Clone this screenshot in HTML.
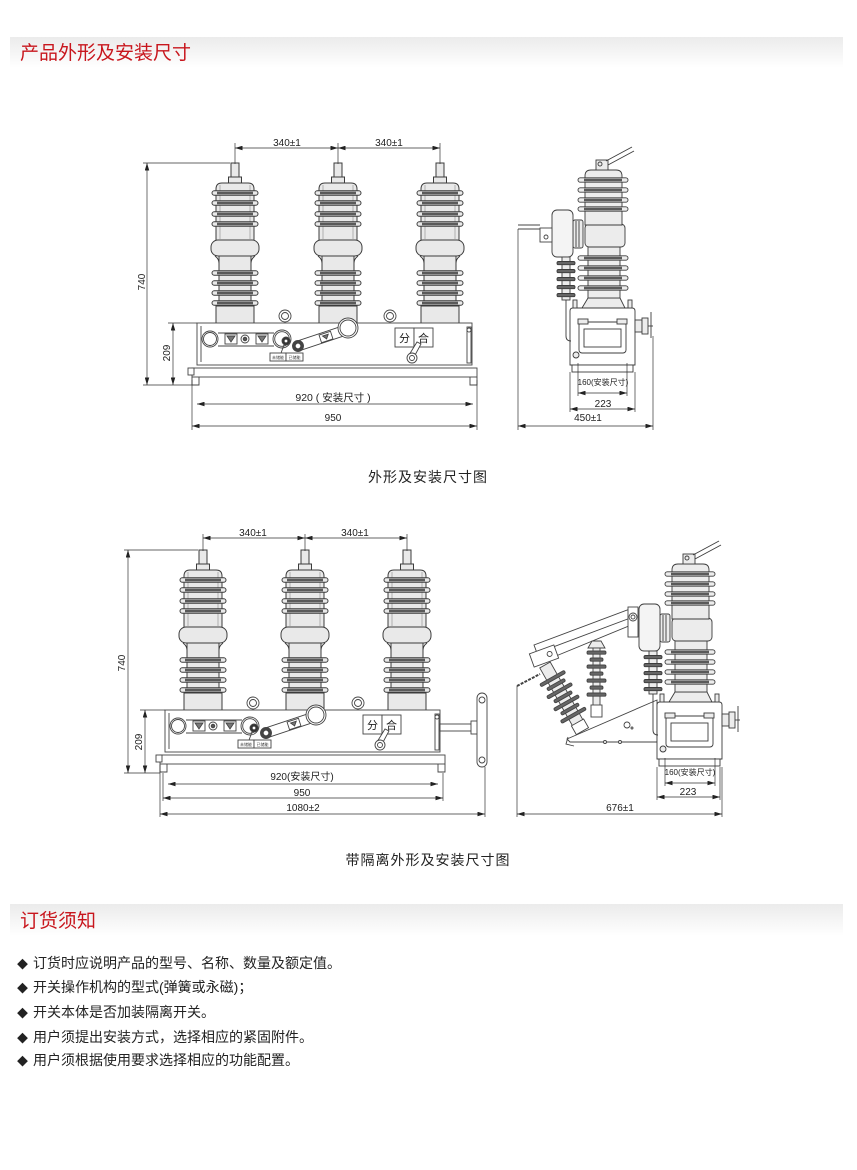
<!DOCTYPE html>
<html><head><meta charset="utf-8"><style>
html,body{margin:0;padding:0;background:#fff;}
svg{display:block;}
text{font-family:"Liberation Sans","Noto Sans CJK SC",sans-serif;}
</style></head><body>
<svg width="857" height="1170" viewBox="0 0 857 1170" xmlns="http://www.w3.org/2000/svg">
<defs>
 <linearGradient id="hg" x1="0" y1="0" x2="0" y2="1"><stop offset="0" stop-color="#ebebeb"/><stop offset="1" stop-color="#ffffff"/></linearGradient>
 <marker id="a" viewBox="0 0 10 6" refX="10" refY="3" markerWidth="8" markerHeight="4.5" orient="auto-start-reverse" markerUnits="userSpaceOnUse"><path d="M0,0 L10,3 L0,6 z" fill="#222"/></marker>
 <g id="shedU"><rect x="-23" y="-2.2" width="46" height="4.4" rx="2.2"/><rect x="-18" y="-1.3" width="36" height="2.6" fill="#5a5a5a" stroke="none"/></g>
 <g id="pole" stroke="#3c3c3c" stroke-width="1" fill="#e9e9e9">
  <rect x="-4" y="0" width="8" height="14"/>
  <rect x="-6.5" y="14" width="13" height="6"/>
  <path d="M-19,78 V26 Q-19,20 -13,20 H13 Q19,20 19,26 V78 Z"/>
  <rect x="-16" y="92" width="32" height="52"/>
  <path d="M-19,160 V143 H19 V160"/>
  <rect x="-24" y="77" width="48" height="16" rx="7"/>
  <path d="M-20,93 Q-16,96 -16,100 M20,93 Q16,96 16,100" fill="none"/>
  <line x1="-15" y1="22" x2="-15" y2="76" stroke="#888" stroke-width="0.6"/>
  <line x1="15" y1="22" x2="15" y2="76" stroke="#888" stroke-width="0.6"/>
  <use href="#shedU" y="30"/><use href="#shedU" y="40"/><use href="#shedU" y="51"/><use href="#shedU" y="61"/>
  <use href="#shedU" y="110"/><use href="#shedU" y="120"/><use href="#shedU" y="130"/><use href="#shedU" y="140"/>
 </g>
 <g id="shedS"><rect x="-25" y="-2.2" width="50" height="4.4" rx="2.2"/><rect x="-19" y="-1.3" width="38" height="2.6" fill="#5a5a5a" stroke="none"/></g>
 <g id="shedSm"><rect x="-9" y="-1.5" width="18" height="3.2" rx="1.5" fill="#666"/></g>
</defs>

<!-- header 1 -->
<rect x="10" y="37" width="833" height="31" fill="url(#hg)"/>
<text x="20" y="59" font-size="19" fill="#c8161d">产品外形及安装尺寸</text>

<!-- ============ TOP FRONT VIEW ============ -->
<use href="#pole" transform="translate(235,163)"/>
<use href="#pole" transform="translate(338,163)"/>
<use href="#pole" transform="translate(440,163)"/>

<g id="mech" stroke="#444" stroke-width="0.9" fill="#fff">
 <circle cx="285" cy="316" r="6"/><circle cx="285" cy="316" r="3.5"/>
 <circle cx="390" cy="316" r="6"/><circle cx="390" cy="316" r="3.5"/>
 <rect x="197" y="323" width="275" height="42"/>
 <line x1="201" y1="326" x2="201" y2="362"/>
 <rect x="192" y="368" width="285" height="9"/>
 <path d="M192,377 V385 H199 V377" fill="none"/>
 <path d="M477,377 V385 H470 V377" fill="none"/>
 <rect x="188" y="368" width="6" height="7"/>
 <circle cx="210" cy="339" r="8"/><circle cx="210" cy="339" r="6.5"/>
 <line x1="218" y1="333" x2="274" y2="333"/><line x1="218" y1="346" x2="274" y2="346"/>
 <rect x="225" y="334" width="12" height="10"/><path d="M227,336 H235 L231,342 Z" fill="#777"/>
 <circle cx="245" cy="339" r="4"/><circle cx="245" cy="339" r="1.8" fill="#555"/>
 <rect x="256" y="334" width="12" height="10"/><path d="M258,336 H266 L262,342 Z" fill="#777"/>
 <circle cx="282" cy="339" r="9"/><circle cx="282" cy="339" r="7.3"/>
 <line x1="285" y1="342" x2="280" y2="356"/>
 <circle cx="286" cy="341" r="4" fill="#333"/><circle cx="286" cy="341" r="1.8"/>
 <path d="M299.6,350.7 L347.6,334.7 M296.4,341.3 L344.4,325.3" fill="none"/>
 <g transform="translate(326,337) rotate(-18)"><rect x="-6" y="-4" width="12" height="8"/><path d="M-3,-2 H3 L0,2Z" fill="#777"/></g>
 <circle cx="298" cy="346" r="5.5" fill="#444"/><circle cx="298" cy="346" r="2.8"/>
 <circle cx="348" cy="328" r="10"/><circle cx="348" cy="328" r="8"/>
 <rect x="270" y="353" width="16" height="8"/><rect x="286" y="353" width="17" height="8"/>
 <text x="278" y="359" font-size="4" fill="#333" stroke="none" text-anchor="middle">未储能</text>
 <text x="294.5" y="359" font-size="4" fill="#333" stroke="none" text-anchor="middle">已储能</text>
 <rect x="395" y="328" width="19" height="19"/><rect x="414" y="328" width="19" height="19"/>
 <text x="404.5" y="342" font-size="11" fill="#222" stroke="none" text-anchor="middle">分</text>
 <text x="423.5" y="342" font-size="11" fill="#222" stroke="none" text-anchor="middle">合</text>
 <path d="M409,355 L417,342 L421,344 L414,357 Z"/>
 <circle cx="412" cy="358" r="5"/><circle cx="412" cy="358" r="2.5"/>
 <rect x="467" y="327" width="4" height="36"/><circle cx="469" cy="330" r="2"/>
</g>

<!-- top front dims -->
<g stroke="#333" stroke-width="0.7" fill="none">
 <line x1="235" y1="143" x2="235" y2="164"/><line x1="338" y1="143" x2="338" y2="164"/><line x1="440" y1="143" x2="440" y2="164"/>
 <line x1="235" y1="148" x2="338" y2="148" marker-start="url(#a)" marker-end="url(#a)"/>
 <line x1="338" y1="148" x2="440" y2="148" marker-start="url(#a)" marker-end="url(#a)"/>
 <line x1="143" y1="163" x2="230" y2="163"/><line x1="143" y1="385" x2="192" y2="385"/>
 <line x1="147" y1="163" x2="147" y2="385" marker-start="url(#a)" marker-end="url(#a)"/>
 <line x1="168" y1="323" x2="197" y2="323"/>
 <line x1="173" y1="323" x2="173" y2="385" marker-start="url(#a)" marker-end="url(#a)"/>
 <line x1="192" y1="380" x2="192" y2="430"/><line x1="477" y1="380" x2="477" y2="430"/>
 <line x1="197" y1="404" x2="473" y2="404" marker-start="url(#a)" marker-end="url(#a)"/>
 <line x1="192" y1="426" x2="477" y2="426" marker-start="url(#a)" marker-end="url(#a)"/>
</g>
<g fill="#222" font-size="10" text-anchor="middle">
 <text x="287" y="146">340±1</text><text x="389" y="146">340±1</text>
 <text transform="translate(145,282) rotate(-90)">740</text>
 <text transform="translate(170,353) rotate(-90)">209</text>
 <text x="333" y="401" font-size="10.5">920 ( 安装尺寸 )</text>
 <text x="333" y="421">950</text>
</g>

<!-- ============ TOP SIDE VIEW ============ -->
<g id="sidemain" stroke="#3c3c3c" stroke-width="0.9" fill="#ececec">
 <path d="M570,311 Q570,308 573,308 H632 Q635,308 635,311 V365 H570 Z" fill="#fff"/>
 <rect x="572" y="365" width="61" height="7" fill="#fff"/>
 <rect x="573" y="300" width="4" height="8"/>
 <rect x="628" y="300" width="4" height="8"/>
 <rect x="579" y="322" width="47" height="31" rx="3" fill="#fff"/>
 <rect x="584" y="329" width="37" height="18" fill="#fff"/>
 <rect x="578" y="319" width="10" height="5"/>
 <rect x="617" y="319" width="10" height="5"/>
 <circle cx="576" cy="355" r="3"/>
 <rect x="635" y="320" width="7" height="12"/>
 <rect x="642" y="318" width="6" height="16"/>
 <line x1="648" y1="326" x2="653" y2="326"/>
 <line x1="651" y1="312" x2="651" y2="338"/>
 <path d="M582,308 L588,298 H620 L625,308 Z"/>
 <rect x="588" y="245" width="32" height="53"/>
 <use href="#shedS" transform="translate(603,258)"/><use href="#shedS" transform="translate(603,268)"/>
 <use href="#shedS" transform="translate(603,278)"/><use href="#shedS" transform="translate(603,288)"/>
 <rect x="585" y="224" width="40" height="23" rx="4"/>
 <path d="M585,225 V176 Q585,170 591,170 H616 Q622,170 622,176 V225 Z"/>
 <use href="#shedS" transform="translate(603,180)"/><use href="#shedS" transform="translate(603,190)"/>
 <use href="#shedS" transform="translate(603,200)"/><use href="#shedS" transform="translate(603,209)"/>
 <rect x="596" y="160" width="12" height="10"/>
 <circle cx="600" cy="164" r="2"/>
 <line x1="606" y1="161" x2="632" y2="147"/>
 <line x1="608" y1="165" x2="634" y2="151"/>
 <rect x="573" y="220" width="10" height="28" rx="2"/>
 <line x1="576" y1="221" x2="576" y2="247"/><line x1="579" y1="221" x2="579" y2="247"/>
 <rect x="552" y="210" width="21" height="47" rx="5" fill="#f4f4f4"/>
 <rect x="562" y="257" width="8" height="43"/>
 <use href="#shedSm" transform="translate(566,263)"/><use href="#shedSm" transform="translate(566,271)"/>
 <use href="#shedSm" transform="translate(566,279)"/><use href="#shedSm" transform="translate(566,287)"/>
 <use href="#shedSm" transform="translate(566,295)"/>
 <path d="M566,300 V336 Q566,341 571,341" fill="none"/>
</g>
<g stroke="#444" stroke-width="0.9" fill="#fff">
 <rect x="540" y="228" width="12" height="14"/><circle cx="546" cy="237" r="2"/>
 <line x1="518" y1="225" x2="540" y2="225"/><line x1="518" y1="229" x2="540" y2="229"/>
</g>
<g stroke="#333" stroke-width="0.7" fill="none">
 <line x1="518" y1="229" x2="518" y2="430"/><line x1="653" y1="336" x2="653" y2="430"/>
 <line x1="518" y1="426" x2="653" y2="426" marker-start="url(#a)" marker-end="url(#a)"/>
 <line x1="570" y1="372" x2="570" y2="412"/><line x1="635" y1="372" x2="635" y2="412"/>
 <line x1="570" y1="409" x2="635" y2="409" marker-start="url(#a)" marker-end="url(#a)"/>
 <line x1="578" y1="363" x2="578" y2="396"/><line x1="627" y1="363" x2="627" y2="396"/>
 <line x1="578" y1="393" x2="627" y2="393" marker-start="url(#a)" marker-end="url(#a)"/>
</g>
<g fill="#222" font-size="10" text-anchor="middle">
 <text x="588" y="421">450±1</text>
 <text x="603" y="407">223</text>
 <text x="603" y="385" font-size="8">160(安装尺寸)</text>
</g>

<text x="428" y="482" font-size="14" fill="#222" text-anchor="middle" letter-spacing="1">外形及安装尺寸图</text>

<!-- ============ BOTTOM FRONT VIEW ============ -->
<use href="#pole" transform="translate(203,550)"/>
<use href="#pole" transform="translate(305,550)"/>
<use href="#pole" transform="translate(407,550)"/>
<use href="#mech" transform="translate(-32,387)"/>
<g stroke="#444" stroke-width="0.9" fill="#fff">
 <rect x="440" y="724" width="34" height="7"/>
 <rect x="471" y="721" width="8" height="13"/>
 <rect x="477" y="693" width="10" height="74" rx="5"/>
 <circle cx="482" cy="700" r="3"/><circle cx="482" cy="760" r="3"/>
</g>
<g stroke="#333" stroke-width="0.7" fill="none">
 <line x1="203" y1="534" x2="203" y2="551"/><line x1="305" y1="534" x2="305" y2="551"/><line x1="407" y1="534" x2="407" y2="551"/>
 <line x1="203" y1="538" x2="305" y2="538" marker-start="url(#a)" marker-end="url(#a)"/>
 <line x1="305" y1="538" x2="407" y2="538" marker-start="url(#a)" marker-end="url(#a)"/>
 <line x1="124" y1="550" x2="198" y2="550"/><line x1="124" y1="773" x2="160" y2="773"/>
 <line x1="128" y1="550" x2="128" y2="773" marker-start="url(#a)" marker-end="url(#a)"/>
 <line x1="140" y1="710" x2="165" y2="710"/>
 <line x1="145" y1="710" x2="145" y2="773" marker-start="url(#a)" marker-end="url(#a)"/>
 <line x1="160" y1="765" x2="160" y2="817"/><line x1="485" y1="767" x2="485" y2="817"/>
 <line x1="163" y1="773" x2="163" y2="801"/><line x1="443" y1="773" x2="443" y2="801"/>
 <line x1="168" y1="784" x2="438" y2="784" marker-start="url(#a)" marker-end="url(#a)"/>
 <line x1="163" y1="798" x2="443" y2="798" marker-start="url(#a)" marker-end="url(#a)"/>
 <line x1="160" y1="814" x2="485" y2="814" marker-start="url(#a)" marker-end="url(#a)"/>
</g>
<g fill="#222" font-size="10" text-anchor="middle">
 <text x="253" y="536">340±1</text><text x="355" y="536">340±1</text>
 <text transform="translate(125,663) rotate(-90)">740</text>
 <text transform="translate(142,742) rotate(-90)">209</text>
 <text x="302" y="780">920(安装尺寸)</text>
 <text x="302" y="796">950</text>
 <text x="303" y="811">1080±2</text>
</g>

<!-- ============ BOTTOM SIDE VIEW ============ -->
<g stroke="#444" stroke-width="0.9" fill="#fff">
 <polygon points="567,739 657,700 657,742 570,742"/>
 <circle cx="605" cy="742" r="1.5"/><circle cx="620" cy="742" r="1.5"/>
 <circle cx="627" cy="725" r="3"/><circle cx="632" cy="728" r="1"/>
 <!-- arrester -->
 <path d="M588,648 L592,641 H601 L605,648 Z" fill="#ececec"/>
 <rect x="593" y="648" width="7" height="60" fill="#ececec"/>
 <rect x="587" y="651" width="19" height="3.2" rx="1.5" fill="#666"/>
 <rect x="590" y="658" width="13" height="3.2" rx="1.5" fill="#666"/>
 <rect x="587" y="665" width="19" height="3.2" rx="1.5" fill="#666"/>
 <rect x="590" y="672" width="13" height="3.2" rx="1.5" fill="#666"/>
 <rect x="587" y="679" width="19" height="3.2" rx="1.5" fill="#666"/>
 <rect x="590" y="686" width="13" height="3.2" rx="1.5" fill="#666"/>
 <rect x="587" y="693" width="19" height="3.2" rx="1.5" fill="#666"/>
 <rect x="591" y="705" width="11" height="12"/>
 <!-- arm -->
 <line x1="636" y1="623" x2="556" y2="656"/>
 <polygon points="630,609 633,617 537,653 534,645"/>
 <!-- slanted insulator -->
 <g transform="translate(545,665) rotate(-29.5)">
  <rect x="-6" y="0" width="12" height="72" fill="#ececec"/>
  <rect x="-14" y="14" width="28" height="3.2" rx="1.5" fill="#666"/>
  <rect x="-10" y="21" width="20" height="3.2" rx="1.5" fill="#666"/>
  <rect x="-14" y="28" width="28" height="3.2" rx="1.5" fill="#666"/>
  <rect x="-10" y="35" width="20" height="3.2" rx="1.5" fill="#666"/>
  <rect x="-14" y="42" width="28" height="3.2" rx="1.5" fill="#666"/>
  <rect x="-10" y="49" width="20" height="3.2" rx="1.5" fill="#666"/>
  <rect x="-14" y="56" width="28" height="3.2" rx="1.5" fill="#666"/>
  <rect x="-7" y="66" width="14" height="10"/>
 </g>
 <g transform="translate(544,656) rotate(-20)"><rect x="-13" y="-7" width="26" height="14"/><circle cx="6" cy="0" r="2.5"/></g>
 <line x1="517" y1="686" x2="540" y2="674" stroke-dasharray="3 1.2" stroke-width="2"/>
 <path d="M568,737 L566,744 L574,746" fill="none"/>
 <rect x="628" y="607" width="10" height="30"/><circle cx="633" cy="617" r="4"/><circle cx="633" cy="617" r="2"/>
</g>
<use href="#sidemain" transform="translate(87,394)"/>
<g stroke="#333" stroke-width="0.7" fill="none">
 <line x1="517" y1="686" x2="517" y2="817"/><line x1="722" y1="767" x2="722" y2="817"/>
 <line x1="517" y1="814" x2="722" y2="814" marker-start="url(#a)" marker-end="url(#a)"/>
 <line x1="657" y1="767" x2="657" y2="800"/><line x1="720" y1="767" x2="720" y2="800"/>
 <line x1="657" y1="797" x2="720" y2="797" marker-start="url(#a)" marker-end="url(#a)"/>
 <line x1="665" y1="758" x2="665" y2="786"/><line x1="715" y1="758" x2="715" y2="786"/>
 <line x1="665" y1="783" x2="715" y2="783" marker-start="url(#a)" marker-end="url(#a)"/>
</g>
<g fill="#222" font-size="10" text-anchor="middle">
 <text x="620" y="811">676±1</text>
 <text x="688" y="795">223</text>
 <text x="690" y="775" font-size="8">160(安装尺寸)</text>
</g>

<text x="428" y="865" font-size="14" fill="#222" text-anchor="middle" letter-spacing="1">带隔离外形及安装尺寸图</text>

<!-- header 2 -->
<rect x="10" y="904" width="833" height="32" fill="url(#hg)"/>
<text x="20" y="927" font-size="19" fill="#c8161d">订货须知</text>

<g font-size="14" fill="#222">
 <text x="17" y="968" font-size="11">◆</text><text x="33" y="968">订货时应说明产品的型号、名称、数量及额定值。</text>
 <text x="17" y="992" font-size="11">◆</text><text x="33" y="992">开关操作机构的型式(弹簧或永磁)；</text>
 <text x="17" y="1017" font-size="11">◆</text><text x="33" y="1017">开关本体是否加装隔离开关。</text>
 <text x="17" y="1042" font-size="11">◆</text><text x="33" y="1042">用户须提出安装方式，选择相应的紧固附件。</text>
 <text x="17" y="1065" font-size="11">◆</text><text x="33" y="1065">用户须根据使用要求选择相应的功能配置。</text>
</g>
</svg>
</body></html>
